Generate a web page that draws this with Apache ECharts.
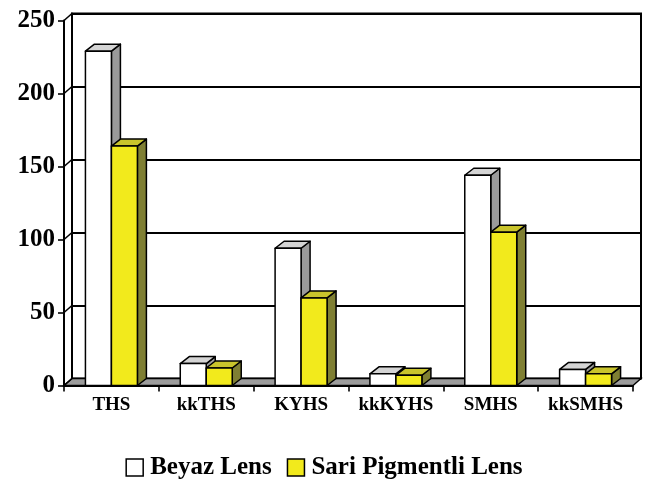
<!DOCTYPE html>
<html>
<head>
<meta charset="utf-8">
<script src="https://cdn.jsdelivr.net/npm/echarts@6/dist/echarts.min.js"></script>
<style>
  html, body { margin: 0; padding: 0; background: #fff; }
  #chart { width: 648px; height: 479px; }
</style>
</head>
<body>
<div id="chart"></div>
<script>
// Categories and measured values
var categories = ['THS', 'kkTHS', 'KYHS', 'kkKYHS', 'SMHS', 'kkSMHS'];
var beyazValues = [229, 15, 94, 8, 144, 11];
var sariValues = [164, 12, 60, 7, 105, 8];
var seriesNames = ['Beyaz Lens', 'Sari Pigmentli Lens'];
var yTicks = [0, 50, 100, 150, 200, 250];

// Faces of each bar: front, side, top
var palettes = [
  { front: '#ffffff', side: '#9a9a9a', top: '#d4d4d4' },
  { front: '#f2ea1c', side: '#7f7f33', top: '#c9c42c' }
];

// Depth offset of the 3D box
var DX = 8, DY = -7;
var FONT = 'Liberation Serif';

function barRenderer(seriesIdx) {
  return function (params, api) {
    var cat = api.value(0);
    var val = api.value(1);
    var top = api.coord([cat, val]);
    var base = api.coord([cat, 0]);
    var catW = api.size([1, 0])[0];
    var w = catW * 0.274;
    var x0 = top[0] - w + seriesIdx * w;
    var yt = top[1], yb = base[1];
    var pal = palettes[seriesIdx];
    var line = { stroke: '#000', lineWidth: 1.5, lineJoin: 'round' };
    var dx = DX + 1;
    return {
      type: 'group',
      children: [
        { type: 'polygon', shape: { points: [[x0 + w, yt], [x0 + w + dx, yt + DY], [x0 + w + dx, yb + DY], [x0 + w, yb]] },
          style: Object.assign({ fill: pal.side }, line) },
        { type: 'polygon', shape: { points: [[x0, yt], [x0 + dx, yt + DY], [x0 + w + dx, yt + DY], [x0 + w, yt]] },
          style: Object.assign({ fill: pal.top }, line) },
        { type: 'rect', shape: { x: x0, y: yt, width: w, height: yb - yt },
          style: Object.assign({ fill: pal.front }, line) }
      ]
    };
  };
}

// Floor and left side wall of the box
function frameRenderer(params, api) {
  var cs = params.coordSys;
  var children = [];
  var yb = api.coord([0, 0])[1];
  children.push({
    type: 'polygon',
    shape: { points: [[cs.x, yb], [cs.x + cs.width, yb], [cs.x + cs.width + DX, yb + DY], [cs.x + DX, yb + DY]] },
    style: { fill: '#9c9c9c', stroke: '#000', lineWidth: 1.4 }
  });
  yTicks.forEach(function (v) {
    var y = api.coord([0, v])[1];
    children.push({
      type: 'line',
      shape: { x1: cs.x, y1: y, x2: cs.x + DX, y2: y + DY },
      style: { stroke: '#000', lineWidth: 1.6 }
    });
  });
  return { type: 'group', children: children };
}

var chart = echarts.init(document.getElementById('chart'), null, { renderer: 'canvas' });

chart.setOption({
  animation: false,
  backgroundColor: '#fff',
  grid: [
    // back wall
    { left: 72, right: 7, top: 13.5, bottom: 100.5, show: true, borderColor: '#000', borderWidth: 2, backgroundColor: '#fff', containLabel: false },
    // front plane
    { left: 64, right: 15, top: 20.5, bottom: 93.5, containLabel: false }
  ],
  xAxis: [
    { gridIndex: 0, type: 'category', data: categories, show: false },
    {
      gridIndex: 1, type: 'category', data: categories,
      axisLine: { show: true, lineStyle: { color: '#000', width: 2 } },
      axisTick: { show: true, interval: 0, length: 6, lineStyle: { color: '#000', width: 1.6 } },
      axisLabel: { interval: 0, color: '#000', fontFamily: FONT, fontWeight: 'bold', fontSize: 19, margin: 10 }
    }
  ],
  yAxis: [
    {
      gridIndex: 0, type: 'value', min: 0, max: 250, interval: 50,
      axisLine: { show: true, lineStyle: { color: '#000', width: 2 } },
      axisTick: { show: false }, axisLabel: { show: false },
      splitLine: { show: true, lineStyle: { color: '#000', width: 2 } }
    },
    {
      gridIndex: 1, type: 'value', min: 0, max: 250, interval: 50,
      axisLine: { show: true, lineStyle: { color: '#000', width: 2 } },
      axisTick: { show: true, length: 6, lineStyle: { color: '#000', width: 1.6 } },
      axisLabel: { color: '#000', fontFamily: FONT, fontWeight: 'bold', fontSize: 25, margin: 9 },
      splitLine: { show: false }
    }
  ],
  legend: {
    left: 'center',
    top: 450,
    icon: 'rect',
    itemWidth: 17,
    itemHeight: 17,
    itemGap: 15,
    textStyle: { color: '#000', fontFamily: FONT, fontWeight: 'bold', fontSize: 25, padding: [0, 0, 0, 2] },
    data: [
      { name: seriesNames[0], itemStyle: { color: '#ffffff', borderColor: '#000', borderWidth: 1.5 } },
      { name: seriesNames[1], itemStyle: { color: '#f2ea1c', borderColor: '#000', borderWidth: 1.5 } }
    ]
  },
  series: [
    {
      type: 'custom', name: 'frame', xAxisIndex: 1, yAxisIndex: 1, z: 2, silent: true,
      renderItem: frameRenderer, data: [[0, 0]]
    },
    {
      type: 'custom', name: seriesNames[0], xAxisIndex: 1, yAxisIndex: 1, z: 3,
      itemStyle: { color: '#ffffff', borderColor: '#000', borderWidth: 1.5 },
      renderItem: barRenderer(0),
      data: beyazValues.map(function (v, i) { return [i, v]; })
    },
    {
      type: 'custom', name: seriesNames[1], xAxisIndex: 1, yAxisIndex: 1, z: 4,
      itemStyle: { color: '#f2ea1c', borderColor: '#000', borderWidth: 1.5 },
      renderItem: barRenderer(1),
      data: sariValues.map(function (v, i) { return [i, v]; })
    }
  ]
});
</script>
</body>
</html>
